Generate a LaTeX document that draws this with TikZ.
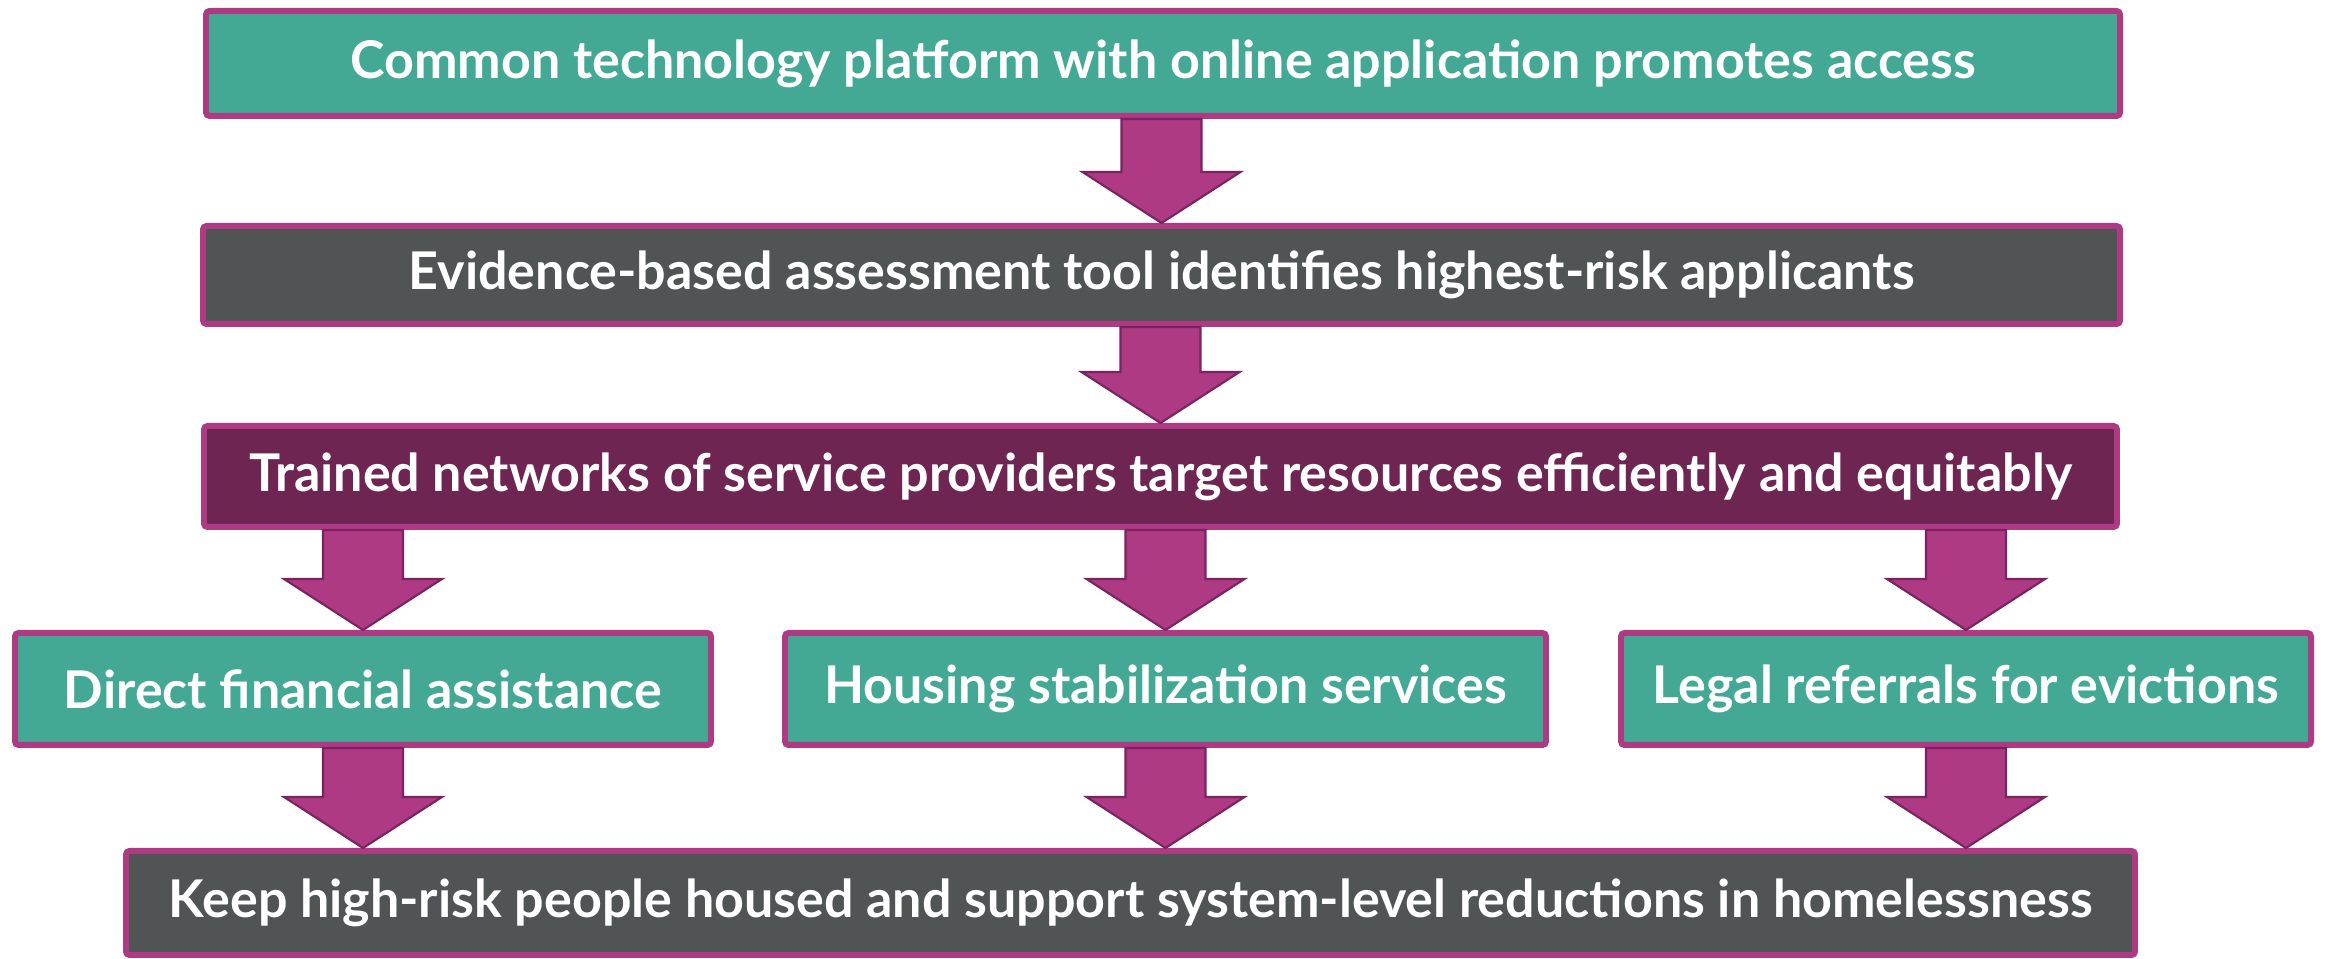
\documentclass[tikz,border=0pt]{standalone}
\usepackage{fontspec}
\setmainfont{Lato}[UprightFont=* Bold]
\usetikzlibrary{calc}
\definecolor{teal}{HTML}{44A994}
\definecolor{slate}{HTML}{505455}
\definecolor{plum}{HTML}{6F2552}
\definecolor{rim}{HTML}{AE3A83}
\definecolor{arrowfill}{HTML}{AD3A82}
\definecolor{arrowrim}{HTML}{7B2260}
\tikzset{
  stagebox/.style={draw=rim, line width=1.7pt, rounded corners=1pt, text=white,
    font=\fontsize{14.8}{17}\selectfont, inner sep=0pt, anchor=center},
  blockarrow/.style={fill=arrowfill, draw=arrowrim, line width=0.6pt, line join=miter}
}
\newcommand{\flowarrow}[2]{%
  \path[blockarrow] let \p1=#1, \p2=#2 in
    (\x2-0.4cm,\y1) -- (\x2+0.4cm,\y1) -- (\x2+0.4cm,\y2+0.51cm) -- (\x2+0.79cm,\y2+0.51cm)
    -- (\x2,\y2) -- (\x2-0.79cm,\y2+0.51cm) -- (\x2-0.4cm,\y2+0.51cm) -- cycle;}
\begin{document}
\begin{tikzpicture}
  \useasboundingbox (0,0) rectangle (23.28,9.59);
  \node[stagebox, fill=teal, minimum width=19.14cm, minimum height=1.05cm] (platform) at (11.63,8.955)
    {Common technology platform with online application promotes access};
  \node[stagebox, fill=slate, minimum width=19.17cm, minimum height=0.98cm] (assess) at (11.615,6.84)
    {Evidence-based assessment tool identifies highest-risk applicants};
  \node[stagebox, fill=plum, minimum width=19.13cm, minimum height=1.01cm] (network) at (11.605,4.825)
    {Trained networks of service providers target resources efficiently and equitably};
  \node[stagebox, fill=teal, minimum width=6.96cm, minimum height=1.12cm] (financial) at (3.63,2.70)
    {Direct financial assistance};
  \node[stagebox, fill=teal, minimum width=7.61cm, minimum height=1.12cm] (housing) at (11.655,2.70)
    {Housing stabilization services};
  \node[stagebox, fill=teal, minimum width=6.90cm, minimum height=1.12cm] (legal) at (19.66,2.70)
    {Legal referrals for evictions};
  \node[stagebox, fill=slate, minimum width=20.09cm, minimum height=1.04cm] (housed) at (11.305,0.56)
    {Keep high-risk people housed and support system-level reductions in homelessness};
  \flowarrow{(platform.south)}{(assess.north)}
  \flowarrow{(assess.south)}{(network.north)}
  \flowarrow{(network.south)}{(financial.north)}
  \flowarrow{(network.south)}{(housing.north)}
  \flowarrow{(network.south)}{(legal.north)}
  \flowarrow{(financial.south)}{(financial.south |- housed.north)}
  \flowarrow{(housing.south)}{(housing.south |- housed.north)}
  \flowarrow{(legal.south)}{(legal.south |- housed.north)}
\end{tikzpicture}
\end{document}
